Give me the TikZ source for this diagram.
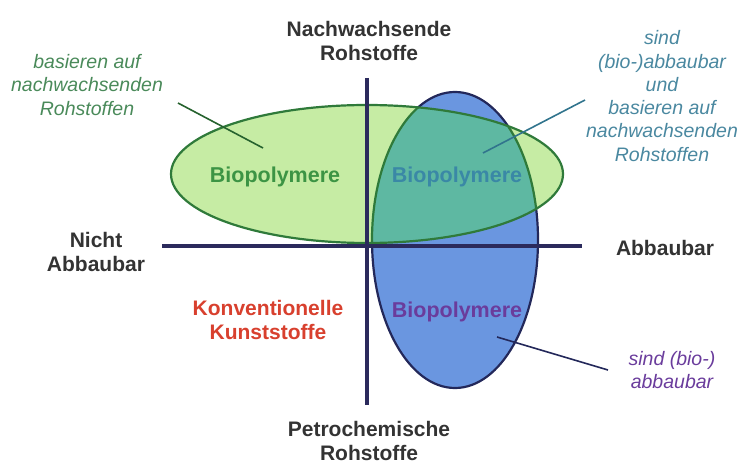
\documentclass[tikz,border=0pt]{standalone}
\usepackage{fontspec}
\setmainfont{Liberation Sans}
\usepackage{tikz}

\definecolor{axisnavy}{HTML}{2B2A5C}
\definecolor{labelgray}{HTML}{333333}
\definecolor{greenfill}{HTML}{C6ECA4}
\definecolor{greenline}{HTML}{2F7A3A}
\definecolor{bluefill}{HTML}{6A96E0}
\definecolor{blueline}{HTML}{23285A}
\definecolor{tealfill}{HTML}{5EB8A2}
\definecolor{greentext}{HTML}{3C9444}
\definecolor{tealtext}{HTML}{3A88A6}
\definecolor{purpletext}{HTML}{6A3C9C}
\definecolor{redtext}{HTML}{D8402E}
\definecolor{notegreen}{HTML}{4A8A5A}
\definecolor{noteteal}{HTML}{4A88A0}

\tikzset{
  axislabel/.style={font=\fontsize{21}{24.5}\selectfont\bfseries, text=labelgray, align=center, inner sep=0pt},
  bioname/.style={font=\fontsize{21.5}{25}\selectfont\bfseries, inner sep=0pt},
  note/.style={font=\fontsize{19.5}{23.3}\selectfont\itshape, align=center, inner sep=0pt},
  leader/.style={line width=1.6pt}
}

\begin{document}
\begin{tikzpicture}[x=1pt,y=-1pt]
    \useasboundingbox (0,0) rectangle (739,468);

    % Ellipses
    \filldraw[fill=bluefill,draw=blueline,line width=2.2pt] (455,240) ellipse [x radius=83, y radius=148];
    \fill[greenfill] (367,174) ellipse [x radius=196, y radius=69];
    \begin{scope}
        \clip (367,174) ellipse [x radius=196, y radius=69];
        \fill[tealfill] (455,240) ellipse [x radius=83, y radius=148];
        \draw[greenline,line width=2.2pt] (455,240) ellipse [x radius=83, y radius=148];
    \end{scope}
    \draw[greenline,line width=2.2pt] (367,174) ellipse [x radius=196, y radius=69];

    % Axes
    \draw[axisnavy,line width=3.6pt] (367,78) -- (367,405);
    \draw[axisnavy,line width=3.6pt] (162,246) -- (582,246);

    % Axis labels
    \node[axislabel] (renew) at (369,41) {Nachwachsende\\Rohstoffe};
    \node[axislabel] (petro) at (369,441) {Petrochemische\\Rohstoffe};
    \node[axislabel] (notdeg) at (96,252) {Nicht\\Abbaubar};
    \node[axislabel] (deg) at (665,248) {Abbaubar};

    % Region labels
    \node[bioname,text=greentext] (bioleft) at (275,177) {Biopolymere};
    \node[bioname,text=tealtext] (bioboth) at (457,177) {Biopolymere};
    \node[bioname,text=purpletext] (biolow) at (457,312) {Biopolymere};
    \node[axislabel,text=redtext] (konv) at (268,320) {Konventionelle\\Kunststoffe};

    % Notes
    \node[note,text=notegreen] (noteleft) at (87,85) {basieren auf\\nachwachsenden\\Rohstoffen};
    \node[note,text=noteteal] (noteboth) at (662,96) {sind\\(bio-)abbaubar\\und\\basieren auf\\nachwachsenden\\Rohstoffen};
    \node[note,text=purpletext] (notelow) at (672,370) {sind (bio-)\\abbaubar};

    % Leader lines
    \coordinate (leftstart) at (178,103);
    \coordinate (leftend) at (263,148);
    \coordinate (bothstart) at (585,100);
    \coordinate (bothend) at (483,153);
    \coordinate (lowstart) at (608,370);
    \coordinate (lowend) at (497,337);
    \draw[leader,color=greenline!80!black] (leftstart) -- (leftend);
    \draw[leader,color=tealtext!85!black] (bothstart) -- (bothend);
    \draw[leader,color=blueline] (lowstart) -- (lowend);
\end{tikzpicture}
\end{document}
